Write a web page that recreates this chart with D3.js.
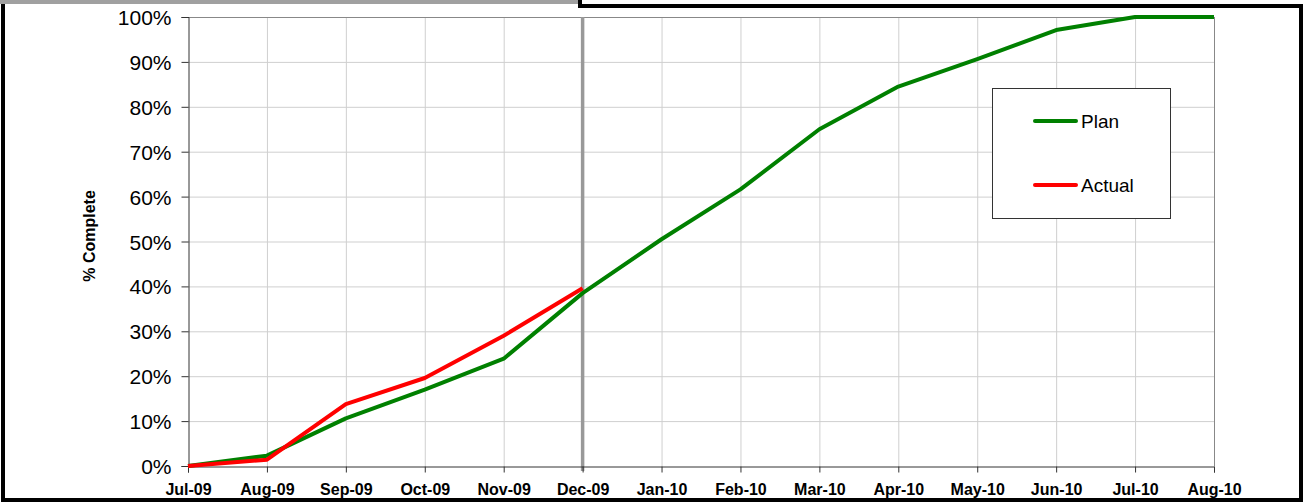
<!DOCTYPE html>
<html><head><meta charset="utf-8">
<script src="https://cdn.jsdelivr.net/npm/d3@7"></script>
<style>body{margin:0;background:#fff;}svg{display:block;font-family:"Liberation Sans",Arial,sans-serif;}</style>
</head><body>
<svg id="c" width="1308" height="502"></svg>
<script>
const months = ["Jul-09","Aug-09","Sep-09","Oct-09","Nov-09","Dec-09","Jan-10","Feb-10","Mar-10","Apr-10","May-10","Jun-10","Jul-10","Aug-10"];
const plan = [0, 2.3, 10.6, 17.0, 23.9, 38.5, 50.5, 61.6, 75.0, 84.5, 90.6, 97.1, 100, 100];
const actual = [0, 1.4, 13.8, 19.6, 29.0, 39.6];
const yTicks = [0,10,20,30,40,50,60,70,80,90,100];
const statusMonth = "Dec-09";

const svg = d3.select("#c");
const L = 188, R = 1214, T = 17, B = 466;
const x = d3.scalePoint().domain(months).range([L, R]);
const y = d3.scaleLinear().domain([0, 100]).range([B, T]);

// frame
svg.append("rect").attr("x",0).attr("y",0).attr("width",578).attr("height",4).attr("fill","#a0a0a0");
svg.append("path").attr("d","M3,4 V500 H1301 V6 H580 V0").attr("fill","none").attr("stroke","#000").attr("stroke-width",4);

// grid
svg.append("g").selectAll("line").data(yTicks.filter(d=>d>0 && d<100)).join("line")
  .attr("x1",L).attr("x2",R).attr("y1",d=>y(d)+0.5).attr("y2",d=>y(d)+0.5).attr("stroke","#cfcfcf").attr("stroke-width",1);
svg.append("g").selectAll("line").data(months.slice(1,-1)).join("line")
  .attr("x1",d=>x(d)+0.5).attr("x2",d=>x(d)+0.5).attr("y1",T).attr("y2",B).attr("stroke","#cfcfcf").attr("stroke-width",1);
svg.append("line").attr("x1",L).attr("x2",R).attr("y1",y(100)+0.5).attr("y2",y(100)+0.5).attr("stroke","#888");
svg.append("line").attr("x1",R+0.5).attr("x2",R+0.5).attr("y1",T).attr("y2",B).attr("stroke","#888");

// status line
svg.append("line").attr("x1",x(statusMonth)).attr("x2",x(statusMonth)).attr("y1",T).attr("y2",B+5).attr("stroke","#999").attr("stroke-width",3.5);

// axes
const yAxis = d3.axisLeft(y).tickValues(yTicks).tickSize(7).tickPadding(10).tickFormat(d=>d+"%");
const gy = svg.append("g").attr("transform",`translate(${L+0.5},0)`).call(yAxis);
gy.select(".domain").attr("stroke","#333");
gy.selectAll(".tick line").attr("stroke","#333");
gy.selectAll("text").attr("font-size",21).attr("fill","#000").attr("font-family","Liberation Sans, Arial, sans-serif").attr("dy","0.36em");

const xAxis = d3.axisBottom(x).tickSize(6);
const gx = svg.append("g").attr("transform",`translate(0,${B+0.5})`).call(xAxis);
gx.select(".domain").attr("stroke","#333");
gx.selectAll(".tick line").attr("stroke","#333");
gx.selectAll("text").attr("y",28.5).attr("dy",0).attr("font-size",16).attr("font-weight","bold").attr("fill","#000").attr("font-family","Liberation Sans, Arial, sans-serif");

// y title
svg.append("text").attr("transform",`translate(95,${236}) rotate(-90)`).attr("text-anchor","middle")
  .attr("font-size",16).attr("font-weight","bold").text("% Complete");

// lines
const line = d3.line().x((d,i)=>x(months[i])).y(d=>y(d));
svg.append("path").datum(plan).attr("d",line).attr("fill","none").attr("stroke","#008000").attr("stroke-width",4).attr("stroke-linejoin","round");
svg.append("path").datum(actual).attr("d",line).attr("fill","none").attr("stroke","#ff0000").attr("stroke-width",4).attr("stroke-linejoin","round");

// legend
const lg = svg.append("g");
lg.append("rect").attr("x",992.5).attr("y",88.5).attr("width",178).attr("height",130).attr("fill","#fff").attr("stroke","#333").attr("stroke-width",1);
const items = [{name:"Plan",color:"#008000",yy:121},{name:"Actual",color:"#ff0000",yy:185}];
items.forEach(it=>{
  lg.append("line").attr("x1",1035).attr("x2",1076).attr("y1",it.yy).attr("y2",it.yy).attr("stroke",it.color).attr("stroke-width",4).attr("stroke-linecap","round");
  lg.append("text").attr("x",1081).attr("y",it.yy).attr("dy","0.36em").attr("font-size",19).text(it.name);
});
</script>
</body></html>
